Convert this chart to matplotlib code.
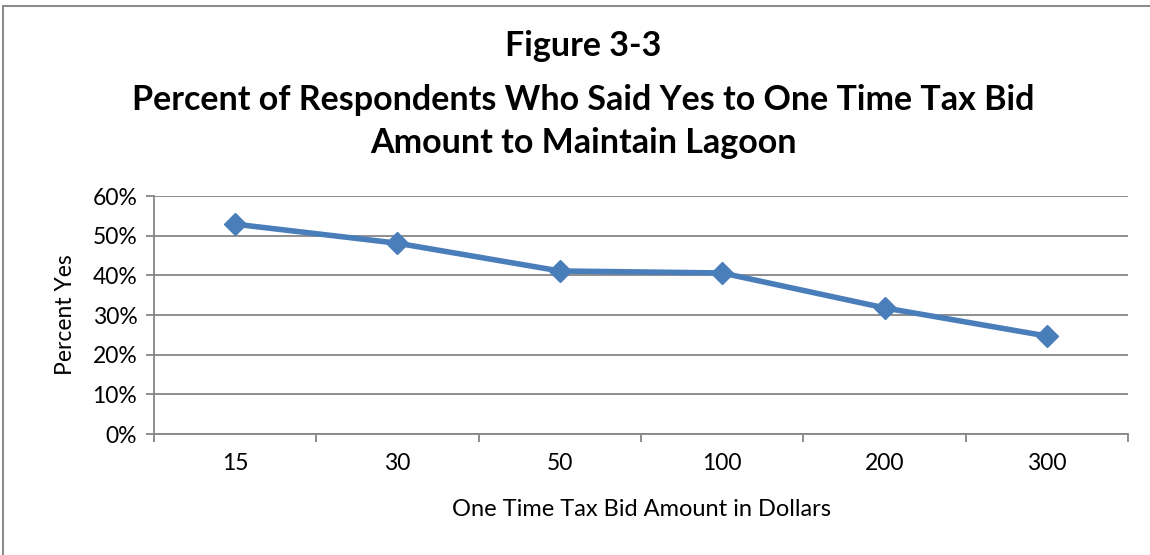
import matplotlib.pyplot as plt
import numpy as np
from matplotlib.patches import Rectangle
from matplotlib.ticker import PercentFormatter

plt.rcParams["font.family"] = ["Lato", "DejaVu Sans"]

# one time tax bid (dollars) and share of respondents answering yes
bid_labels = ["15", "30", "50", "100", "200", "300"]
pct_yes = [52.9, 48.1, 41.1, 40.6, 31.8, 24.7]

line_color = "#4A7EBB"
grid_color = "#868686"

fig = plt.figure(figsize=(11.5, 5.55), dpi=100)
ax = fig.add_axes([0.1339, 0.218, 0.847, 0.4288])

# chart area border
fig.patches.append(Rectangle((0.003, -0.05), 1.1, 1.04, transform=fig.transFigure,
                             fill=False, edgecolor="#8C8C8C", linewidth=1.5))

x = np.arange(len(bid_labels))
ax.plot(x, pct_yes, color=line_color, linewidth=4, marker="D",
        markersize=11, markeredgecolor=line_color, zorder=3)

ax.set_xlim(-0.5, len(bid_labels) - 0.5)
ax.set_ylim(0, 60)
ax.set_yticks(np.arange(0, 61, 10))
ax.yaxis.set_major_formatter(PercentFormatter(decimals=0))
ax.set_xticks(x)
ax.set_xticklabels(bid_labels)
ax.set_xticks(np.arange(-0.5, len(bid_labels)), minor=True)

ax.grid(axis="y", color=grid_color, linewidth=1.3)
ax.set_axisbelow(True)
for side in ["top", "right"]:
    ax.spines[side].set_visible(False)
for side in ["left", "bottom"]:
    ax.spines[side].set_color(grid_color)
    ax.spines[side].set_linewidth(1.3)

ax.tick_params(axis="y", length=6, width=1.3, color=grid_color, labelsize=16.5, pad=6)
ax.tick_params(axis="x", which="major", length=0, labelsize=16.5, pad=14)
ax.tick_params(axis="x", which="minor", length=6, width=1.3, color=grid_color)

ax.set_xlabel("One Time Tax Bid Amount in Dollars", fontsize=17, labelpad=18)
ax.set_ylabel("Percent Yes", fontsize=16.5, labelpad=12)

fig.text(0.507, 0.918, "Figure 3-3", ha="center", va="center",
         fontsize=24.5, fontweight="bold")
fig.text(0.507, 0.82, "Percent of Respondents Who Said Yes to One Time Tax Bid",
         ha="center", va="center", fontsize=24.5, fontweight="bold")
fig.text(0.507, 0.742, "Amount to Maintain Lagoon", ha="center", va="center",
         fontsize=24.5, fontweight="bold")

fig.savefig("out.png", dpi=100, facecolor="white")
